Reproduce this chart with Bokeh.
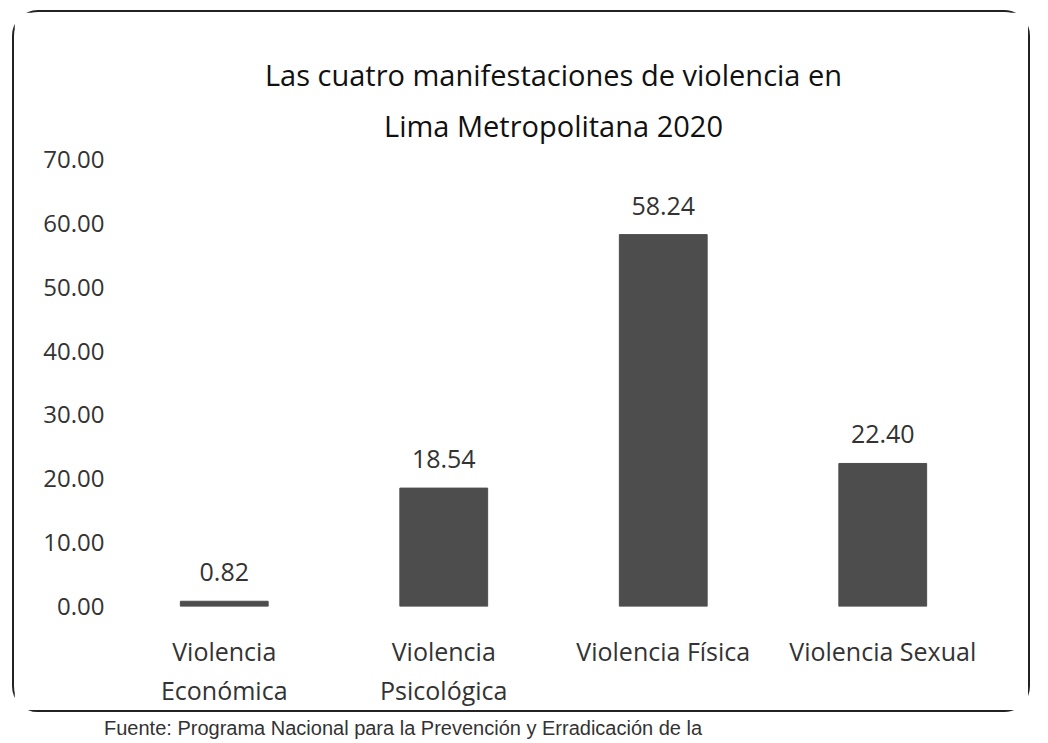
from bokeh.plotting import figure
from bokeh.models import (ColumnDataSource, LabelSet, FixedTicker, NumeralTickFormatter, Range1d,
                          Div, Title)
from bokeh.core.properties import value
from bokeh.layouts import column
from bokeh.embed import file_html
from bokeh.resources import INLINE

# ---- data ----
categories = ["Violencia\nEconómica", "Violencia\nPsicológica", "Violencia Física", "Violencia Sexual"]
values = [0.82, 18.54, 58.24, 22.40]
y_ticks = [0, 10, 20, 30, 40, 50, 60, 70]
title_lines = ["Las cuatro manifestaciones de violencia en", "Lima Metropolitana 2020"]
source_text = "Fuente: Programa Nacional para la Prevención y Erradicación de la"

xpos = list(range(len(categories)))
src = ColumnDataSource(dict(x=xpos, val=values, lab=[f"{v:.2f}" for v in values]))

p = figure(x_range=Range1d(-0.5, len(categories) - 0.5), y_range=Range1d(0, 70),
           width=1018, height=702, output_backend="svg", toolbar_location=None,
           min_border_left=100, min_border_right=40, min_border_top=147, min_border_bottom=108)
p.margin = (10, 0, 0, 12)
p.styles = {"border": "2px solid #222", "border-radius": "26px", "box-sizing": "border-box"}

p.vbar(x="x", top="val", width=0.4, source=src, fill_color="#4d4d4d", line_color="#4d4d4d")

labels = LabelSet(x="x", y="val", text="lab", source=src, text_align="center",
                  text_baseline="bottom", y_offset=20, text_font=value("Open Sans"),
                  text_font_size="25px", text_color="#333333")
p.add_layout(labels)

t2 = Title(text=title_lines[1], align="center", text_font="Open Sans", text_font_size="29px",
           text_font_style="normal", text_color="#111111", standoff=30)
t1 = Title(text=title_lines[0], align="center", text_font="Open Sans", text_font_size="29px",
           text_font_style="normal", text_color="#111111", standoff=-11)
p.add_layout(t2, "above")
p.add_layout(t1, "above")

p.xgrid.grid_line_color = None
p.ygrid.grid_line_color = None
p.outline_line_color = None
for ax in (p.xaxis[0], p.yaxis[0]):
    ax.axis_line_color = None
    ax.major_tick_line_color = None
    ax.minor_tick_line_color = None
    ax.major_label_text_font = "Open Sans"
    ax.major_label_text_font_size = "25px"
    ax.major_label_text_color = "#333333"

p.yaxis.ticker = FixedTicker(ticks=y_ticks)
p.yaxis.formatter = NumeralTickFormatter(format="0.00")
p.yaxis.major_label_standoff = 4
p.yaxis.major_label_text_font_size = "24px"

p.xaxis.ticker = FixedTicker(ticks=xpos)
p.xaxis.major_label_overrides = {i: c for i, c in zip(xpos, categories)}
p.xaxis.major_label_standoff = 21
p.xaxis.major_label_text_line_height = 1.15

footer = Div(text=source_text, width=1000, height=25,
             styles={"font-family": "Liberation Sans", "font-size": "20px", "color": "#333333",
                     "margin-left": "104px", "margin-top": "2px"})

layout = column(p, footer, spacing=0)

open("out.html", "w").write(file_html(layout, INLINE))
